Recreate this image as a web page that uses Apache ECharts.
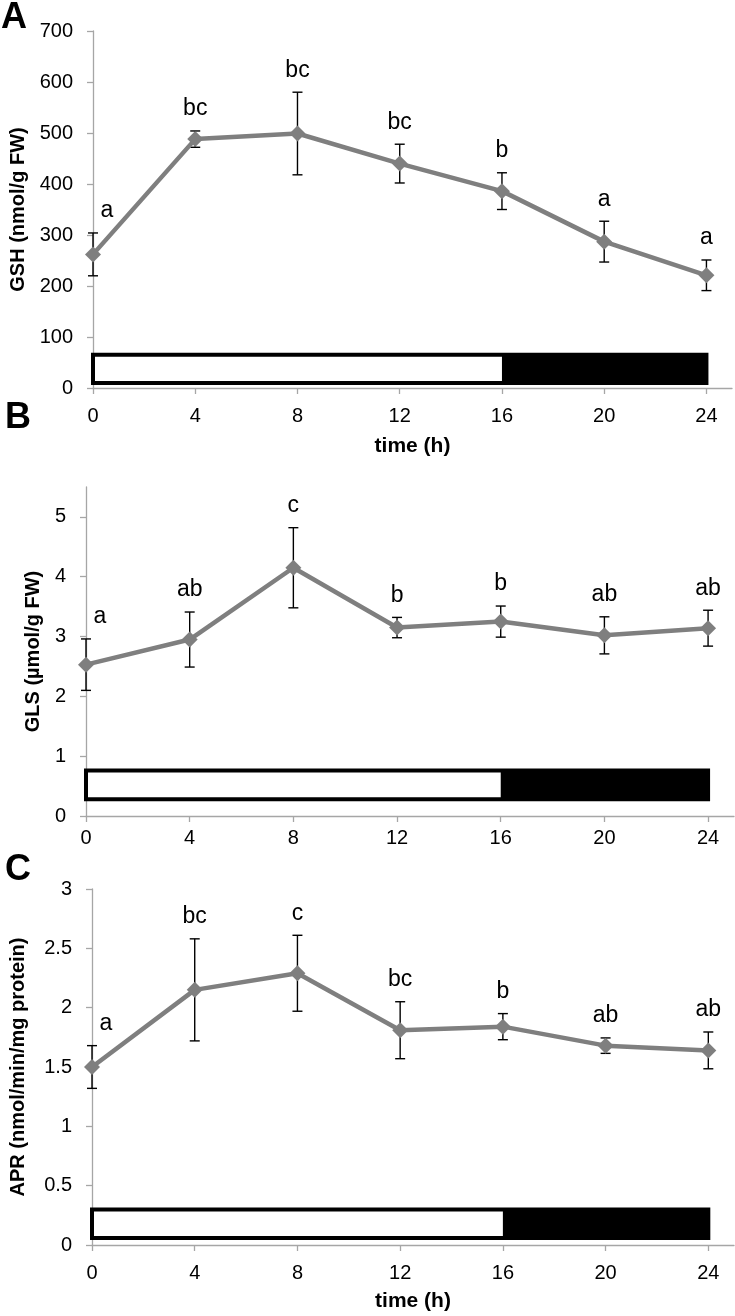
<!DOCTYPE html>
<html>
<head>
<meta charset="utf-8">
<script src="https://cdn.jsdelivr.net/npm/echarts@6/dist/echarts.min.js"></script>
<style>
html,body{margin:0;padding:0;background:#fff;}
#chart{width:735px;height:1316px;}
</style>
</head>
<body>
<div id="chart"></div>
<script>
// ---- data ----
const times = [0, 4, 8, 12, 16, 20, 24];
const xTicks = [0, 4, 8, 12, 16, 20, 24];

const gshMean = [262, 488, 499, 440, 386, 287, 221];
const gshErr = [42, 16, 81, 38, 36, 40, 30];
const gshLetters = ['a', 'bc', 'bc', 'bc', 'b', 'a', 'a'];

const glsMean = [2.53, 2.95, 4.15, 3.15, 3.25, 3.02, 3.14];
const glsErr = [0.43, 0.46, 0.67, 0.17, 0.26, 0.31, 0.30];
const glsLetters = ['a', 'ab', 'c', 'b', 'b', 'ab', 'ab'];

const aprMean = [1.50, 2.15, 2.29, 1.81, 1.84, 1.68, 1.64];
const aprErr = [0.18, 0.43, 0.32, 0.24, 0.11, 0.065, 0.155];
const aprLetters = ['a', 'bc', 'c', 'bc', 'b', 'ab', 'ab'];

const lightPeriod = [0, 16];
const darkPeriod = [16, 24];
const barA = [10, 65];
const barB = [0.28, 0.76];
const barC = [0.06, 0.30];

const yTicksA = [0, 100, 200, 300, 400, 500, 600, 700];
const yTicksB = [0, 1, 2, 3, 4, 5];
const yTicksC = [0, 0.5, 1, 1.5, 2, 2.5, 3];

// ---- styling ----
const FONT = "'Liberation Sans', Arial, Helvetica, sans-serif";
const AXIS_GRAY = '#a6a6a6';
const LINE_GRAY = '#7f7f7f';

const panels = [
  {mean: gshMean, err: gshErr, letters: gshLetters, bar: barA, yTicks: yTicksA, yMax: 700,
   grid: {left: 84, top: 31, width: 648, height: 357}, yName: 'GSH (nmol/g FW)', yGap: 65,
   xName: 'time (h)', xLabelMargin: 18, xGap: 48},
  {mean: glsMean, err: glsErr, letters: glsLetters, bar: barB, yTicks: yTicksB, yMax: 5.5,
   grid: {left: 86, top: 487, width: 648, height: 329}, yName: 'GLS (\u00b5mol/g FW)', yGap: 38,
   xName: '', xLabelMargin: 12, xGap: 40},
  {mean: aprMean, err: aprErr, letters: aprLetters, bar: barC, yTicks: yTicksC, yMax: 3,
   grid: {left: 82, top: 889, width: 652, height: 356}, yName: 'APR (nmol/min/mg protein)', yGap: 64,
   xName: 'time (h)', xLabelMargin: 18, xGap: 46}
];

const grids = [], xAxes = [], yAxes = [], series = [];

panels.forEach((p, i) => {
  grids.push(Object.assign({containLabel: false}, p.grid));
  xAxes.push({
    type: 'value', gridIndex: i, min: 0, max: 25,
    name: p.xName, nameLocation: 'middle', nameGap: p.xGap,
    nameTextStyle: {fontFamily: FONT, fontWeight: 'bold', fontSize: 21, color: '#000'},
    axisLine: {show: true, onZero: false, lineStyle: {color: AXIS_GRAY, width: 1.3}},
    axisTick: {show: true, length: 6, customValues: xTicks, lineStyle: {color: AXIS_GRAY, width: 1.3}},
    axisLabel: {customValues: xTicks, margin: p.xLabelMargin, fontFamily: FONT, fontSize: 20, color: '#000'},
    splitLine: {show: false}
  });
  yAxes.push({
    type: 'value', gridIndex: i, min: 0, max: p.yMax,
    name: p.yName, nameLocation: 'middle', nameGap: p.yGap, nameRotate: 90,
    nameTextStyle: {fontFamily: FONT, fontWeight: 'bold', fontSize: 20, color: '#000'},
    axisLine: {show: true, lineStyle: {color: AXIS_GRAY, width: 1.3}},
    axisTick: {show: true, length: 6, customValues: p.yTicks, lineStyle: {color: AXIS_GRAY, width: 1.3}},
    axisLabel: {customValues: p.yTicks, margin: 20, fontFamily: FONT, fontSize: 20, color: '#000'},
    splitLine: {show: false}
  });

  // error bars
  series.push({
    type: 'custom', xAxisIndex: i, yAxisIndex: i, z: 2, silent: true,
    data: times.map((t, k) => [t, p.mean[k] - p.err[k], p.mean[k] + p.err[k]]),
    renderItem: function (params, api) {
      const lo = api.coord([api.value(0), api.value(1)]);
      const hi = api.coord([api.value(0), api.value(2)]);
      const w = 5;
      const st = {stroke: '#000', lineWidth: 1.4};
      return {type: 'group', children: [
        {type: 'line', shape: {x1: lo[0], y1: lo[1], x2: hi[0], y2: hi[1]}, style: st},
        {type: 'line', shape: {x1: lo[0] - w, y1: lo[1], x2: lo[0] + w, y2: lo[1]}, style: st},
        {type: 'line', shape: {x1: hi[0] - w, y1: hi[1], x2: hi[0] + w, y2: hi[1]}, style: st}
      ]};
    }
  });

  // main line with light/dark bar
  series.push({
    type: 'line', xAxisIndex: i, yAxisIndex: i, z: 3,
    data: times.map((t, k) => [t, p.mean[k]]),
    symbol: 'diamond', symbolSize: 16,
    lineStyle: {color: LINE_GRAY, width: 4.5},
    itemStyle: {color: LINE_GRAY},
    animation: false,
    markArea: {
      silent: true,
      data: [
        [{xAxis: lightPeriod[0], yAxis: p.bar[0], itemStyle: {color: '#fff', borderColor: '#000', borderWidth: 4, opacity: 1}},
         {xAxis: darkPeriod[1], yAxis: p.bar[1]}],
        [{xAxis: darkPeriod[0], yAxis: p.bar[0], itemStyle: {color: '#000', borderColor: '#000', borderWidth: 0, opacity: 1}},
         {xAxis: darkPeriod[1], yAxis: p.bar[1]}]
      ]
    }
  });

  // significance letters
  const letters = p.letters;
  series.push({
    type: 'custom', xAxisIndex: i, yAxisIndex: i, z: 4, silent: true,
    data: times.map((t, k) => [t, p.mean[k] + p.err[k]]),
    renderItem: function (params, api) {
      const c = api.coord([api.value(0), api.value(1)]);
      const dx = params.dataIndex === 0 ? 14 : 0;
      return {type: 'text', x: c[0] + dx, y: c[1] - 22, style: {
        text: letters[params.dataIndex], align: 'center', verticalAlign: 'middle',
        font: '23px ' + FONT, fill: '#000'}};
    }
  });
});

const chart = echarts.init(document.getElementById('chart'), null, {renderer: 'canvas'});
chart.setOption({
  animation: false,
  backgroundColor: '#fff',
  grid: grids, xAxis: xAxes, yAxis: yAxes, series: series,
  graphic: [
    {type: 'text', left: 1, top: 0, style: {text: 'A', font: 'bold 36px ' + FONT, fill: '#000'}},
    {type: 'text', left: 5, top: 400, style: {text: 'B', font: 'bold 36px ' + FONT, fill: '#000'}},
    {type: 'text', left: 5, top: 852, style: {text: 'C', font: 'bold 36px ' + FONT, fill: '#000'}}
  ]
});
</script>
</body>
</html>
